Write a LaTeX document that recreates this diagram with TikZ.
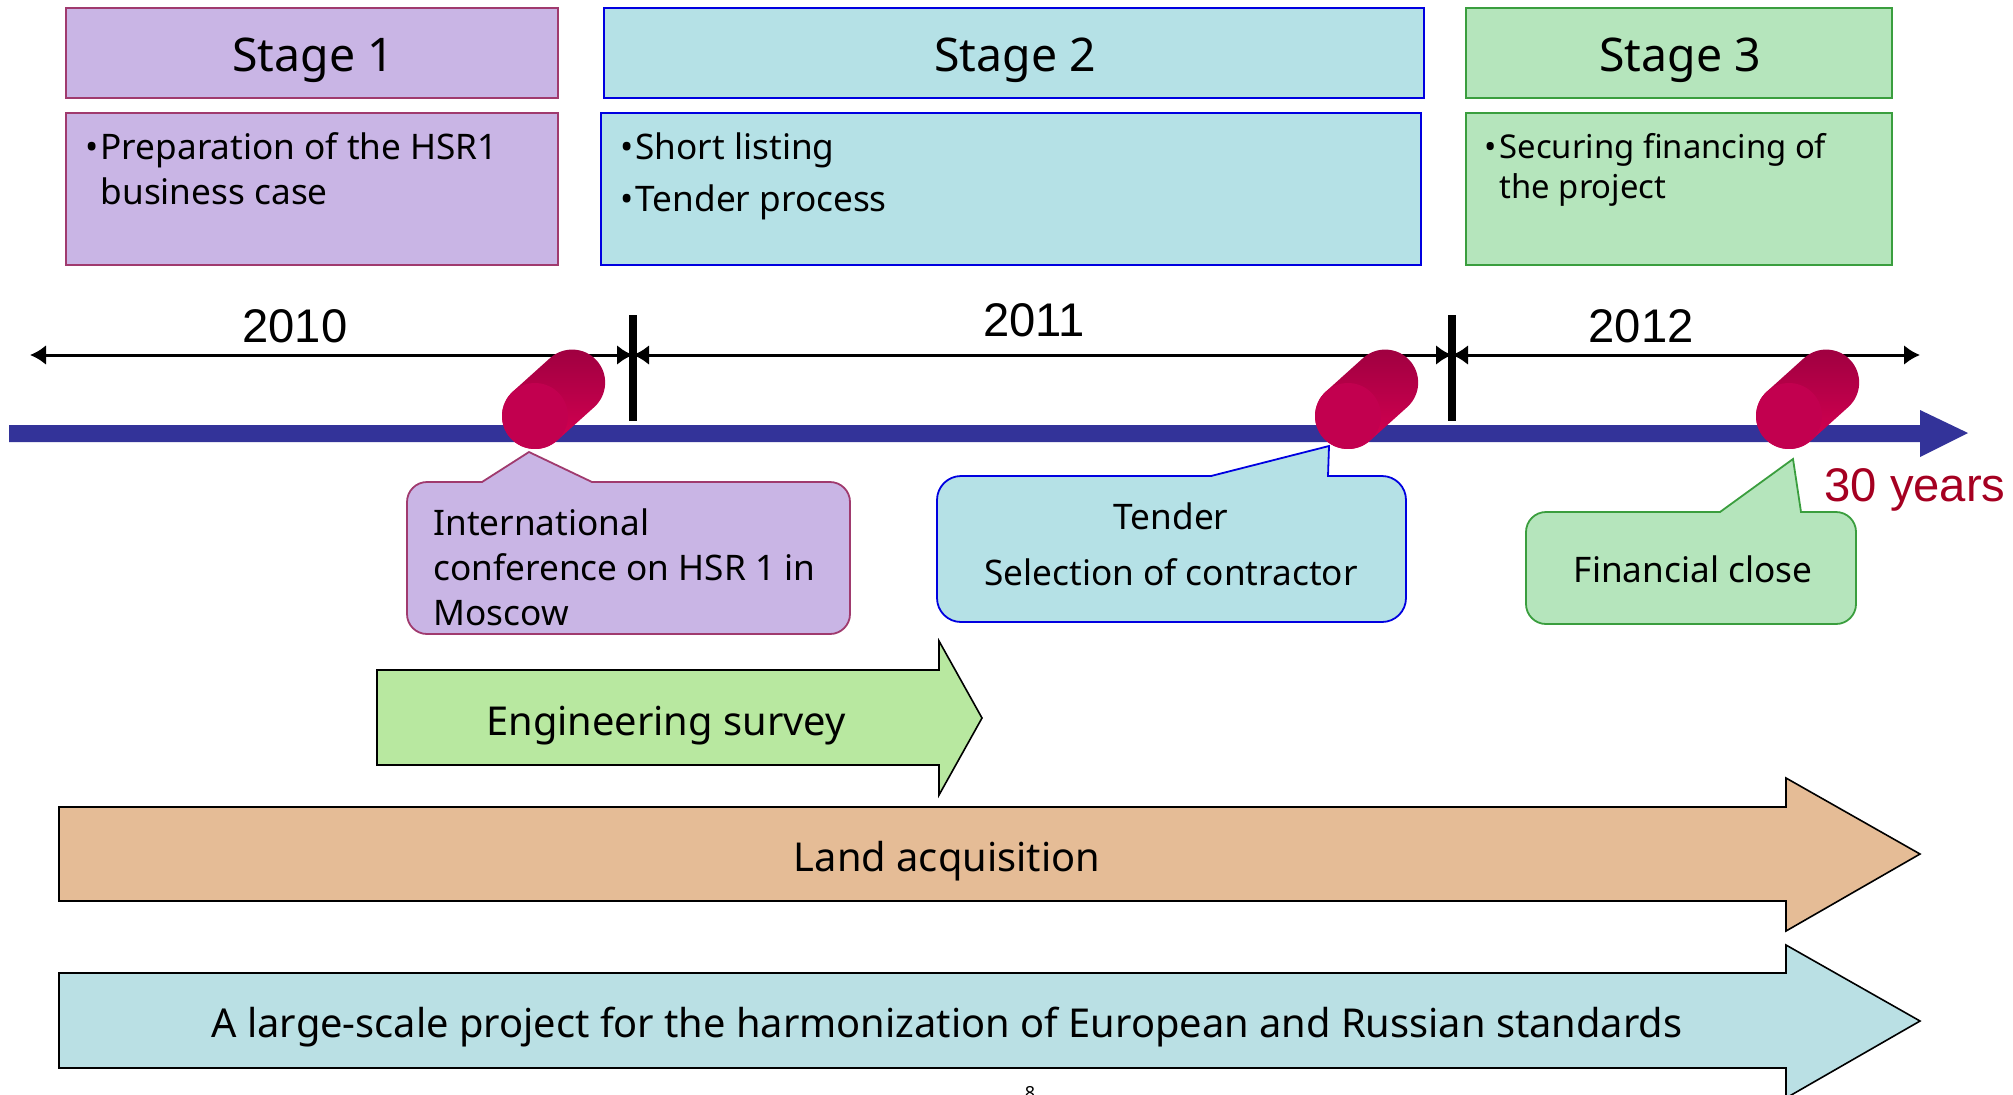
\documentclass[tikz,border=0pt]{standalone}
\usepackage{fontspec}
\setmainfont{Noto Sans}
\newfontfamily\yearfont{Liberation Sans}
\usetikzlibrary{arrows.meta}
\definecolor{purplefill}{HTML}{C9B5E5}
\definecolor{purpleline}{HTML}{A03A6E}
\definecolor{bluefill}{HTML}{B5E1E6}
\definecolor{blueline}{HTML}{0000E0}
\definecolor{greenfill}{HTML}{B5E5BC}
\definecolor{greenline}{HTML}{3A9E3E}
\definecolor{surveyfill}{HTML}{B8E8A0}
\definecolor{landfill}{HTML}{E5BC96}
\definecolor{scalefill}{HTML}{BAE0E4}
\definecolor{barblue}{HTML}{333399}
\definecolor{yearred}{HTML}{A50021}
\definecolor{capfront}{HTML}{C2004F}
\definecolor{capdark}{HTML}{98003E}
\definecolor{capmid}{HTML}{E00055}
\definecolor{capbright}{HTML}{E00055}
\tikzset{
	stagehead/.style={anchor=base, font=\fontsize{23.2}{27}\selectfont},
	stagebody/.style={anchor=north west, align=left, inner sep=0pt, font=\fontsize{17.6}{22.5}\selectfont},
	year/.style={anchor=base, font=\yearfont\fontsize{23.6}{28}\selectfont},
	calltext/.style={anchor=base, inner sep=0pt, font=\fontsize{17.6}{22.5}\selectfont},
	arrowtext/.style={anchor=base, font=\fontsize{19.9}{24}\selectfont},
	bigarrow/.style={draw=black, line width=0.8pt},
	callout/.style={line width=0.9pt},
	span/.style={line width=1.5pt, {Latex[length=8pt,width=10pt]}-{Latex[length=8pt,width=10pt]}},
	tick/.style={line width=4pt}
}
\newcommand{\railcap}[2]{
	\begin{scope}[shift={(#1,#2)}, rotate=42]
		\shade[top color=capdark, middle color=capmid, bottom color=capbright, shading angle=0, rounded corners=16.5pt] (-33,-33) rectangle (83,33);
		\fill[capfront] (0,0) circle [radius=16.5pt];
	\end{scope}
}
\begin{document}
\begin{tikzpicture}[x=0.5pt, y=-0.5pt]
	\useasboundingbox (0,0) rectangle (2013,1094);
	
	% stage headers and contents
	\draw[purpleline, fill=purplefill, line width=0.9pt] (66,8) rectangle (558,98);
	\draw[blueline, fill=bluefill, line width=0.9pt] (604,8) rectangle (1424,98);
	\draw[greenline, fill=greenfill, line width=0.9pt] (1466,8) rectangle (1892,98);
	\draw[purpleline, fill=purplefill, line width=0.9pt] (66,113) rectangle (558,265);
	\draw[blueline, fill=bluefill, line width=0.9pt] (601,113) rectangle (1421,265);
	\draw[greenline, fill=greenfill, line width=0.9pt] (1466,113) rectangle (1892,265);
	
	\node (s1) [stagehead] at (313,71) {Stage 1};
	\node (s2) [stagehead] at (1015,71) {Stage 2};
	\node (s3) [stagehead] at (1680,71) {Stage 3};
	
	\node (b1) [stagebody] at (85,132) {•\kern1pt Preparation of the HSR1\\\phantom{•}\kern1pt business case};
	\node (b2) [stagebody] at (620,132) {•\kern1pt Short listing\\[3.7pt]•\kern1pt Tender process};
	\node (b3) [stagebody, font=\fontsize{16.4}{20}\selectfont] at (1484,133) {•\kern1.5pt Securing financing of\\\phantom{•}\kern1.5pt the project};
	
	% years
	\coordinate (t0) at (30,355);
	\coordinate (t1) at (633,355);
	\coordinate (t2) at (1452,355);
	\coordinate (t3) at (1920,355);
	\draw[span] (t0) -- (t1);
	\draw[span] (t1) -- (t2);
	\draw[span] (t2) -- (t3);
	\draw[tick] (633,315) -- (633,421);
	\draw[tick] (1452,315) -- (1452,421);
	\node (y1) [year] at (295,342) {2010};
	\node (y2) [year] at (1034,336) {2011};
	\node (y3) [year] at (1641,342) {2012};
	
	% main bar
	\fill[barblue] (9,425) -- (1920,425) -- (1920,410) -- (1968,433) -- (1920,457) -- (1920,442) -- (9,442) -- cycle;
	\node (life) [year, text=yearred] at (1915,501) {30 years};
	
	\railcap{535}{416}
	\railcap{1348}{416}
	\railcap{1789}{416}
	
	% callouts
	\draw[callout, draw=purpleline, fill=purplefill, rounded corners=10pt] (407,558) -- (407,482) [sharp corners] -- (482,482) -- (529,452) -- (592,482) [rounded corners=10pt] -- (850,482) -- (850,634) -- (407,634) -- cycle;
	\draw[callout, draw=blueline, fill=bluefill, rounded corners=12pt] (937,550) -- (937,476) [sharp corners] -- (1211,476) -- (1329,446) -- (1328,476) [rounded corners=12pt] -- (1406,476) -- (1406,622) -- (937,622) -- cycle;
	\draw[callout, draw=greenline, fill=greenfill, rounded corners=10pt] (1526,570) -- (1526,512) [sharp corners] -- (1720,512) -- (1793,459) -- (1801,512) [rounded corners=10pt] -- (1856,512) -- (1856,624) -- (1526,624) -- cycle;
	
	\node (c1) [calltext, anchor=base west] at (433,535) {International};
	\node (c2) [calltext, anchor=base west] at (433,580) {conference on HSR 1 in};
	\node (c3) [calltext, anchor=base west] at (433,625) {Moscow};
	\node (c4) [calltext] at (1171,529) {Tender};
	\node (c5) [calltext] at (1171,585) {Selection of contractor};
	\node (c6) [calltext] at (1693,582) {Financial close};
	
	% long running tasks
	\draw[bigarrow, fill=surveyfill] (377,670) -- (939,670) -- (939,641) -- (982,718) -- (939,795) -- (939,765) -- (377,765) -- cycle;
	\draw[bigarrow, fill=landfill] (59,807) -- (1786,807) -- (1786,778) -- (1920,854) -- (1786,931) -- (1786,901) -- (59,901) -- cycle;
	\draw[bigarrow, fill=scalefill] (59,973) -- (1786,973) -- (1786,945) -- (1920,1021) -- (1786,1098) -- (1786,1068) -- (59,1068) -- cycle;
	
	\node (a1) [arrowtext] at (666,735) {Engineering survey};
	\node (a2) [arrowtext] at (947,871) {Land acquisition};
	\node (a3) [arrowtext] at (947,1037) {A large-scale project for the harmonization of European and Russian standards};
	
	\node (page) [anchor=north, inner sep=0pt, font=\fontsize{9}{10}\selectfont] at (1030,1086) {8};
\end{tikzpicture}
\end{document}
